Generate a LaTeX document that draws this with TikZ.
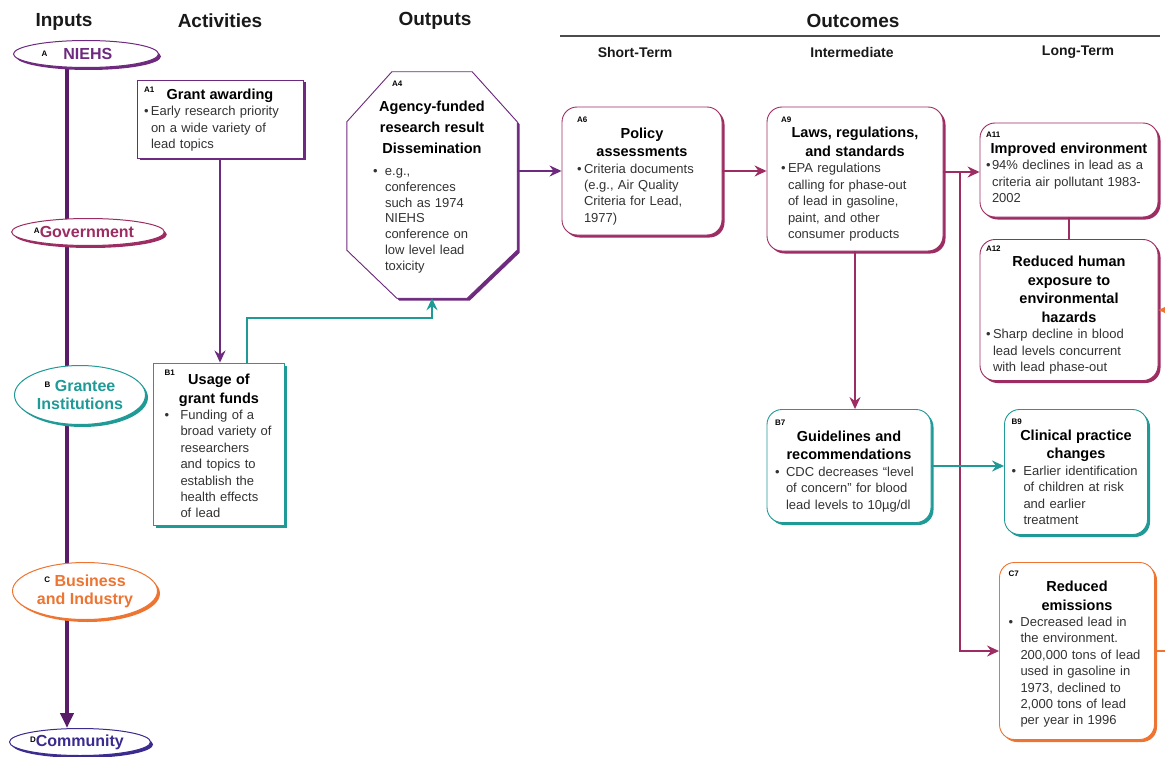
\documentclass[tikz,border=0pt]{standalone}
\usepackage{fontspec}
\setmainfont{Liberation Sans}
\usetikzlibrary{shapes.geometric,shadows,arrows.meta,backgrounds}

\definecolor{npurple}{HTML}{6E2A7E}
\definecolor{nplum}{HTML}{5A1C68}
\definecolor{nmag}{HTML}{9C2C61}
\definecolor{nteal}{HTML}{1F9A97}
\definecolor{norange}{HTML}{EE7431}
\definecolor{nnavy}{HTML}{3B2B8E}
\definecolor{ntext}{HTML}{333333}

\newcommand{\lab}[1]{{\fontsize{8}{8}\selectfont\bfseries\textcolor{black}{#1}}}
\newcommand{\labl}[1]{\noindent\lab{#1}\par\kern-3pt}
\newcommand{\ttlf}{\fontsize{14.5}{18.5}\selectfont\bfseries}
\newcommand{\ttl}[1]{{\centering\ttlf\textcolor{black}{#1}\par}}
\newcommand{\bul}[2][8pt]{\par{\let\\\newline\hangindent=#1\hangafter=1\noindent\hbox to #1{\textbullet\hfil}#2\par}}

\tikzset{
  shad/.style={drop shadow={shadow xshift=2.5pt,shadow yshift=-2.5pt,opacity=1,fill=#1}},
  lbox/.style={draw=#1,line width=0.9pt,fill=white,shad=#1,text=ntext,align=left,
    inner ysep=3pt,font=\fontsize{13}{16.4}\selectfont},
  rlbox/.style={lbox=#1,rounded corners=15pt},
  ell/.style={ellipse,draw=#1,line width=1pt,fill=white,shad=#1,text=#1,inner sep=0pt,
    align=center,font=\fontsize{16}{18}\selectfont\bfseries},
  hdr/.style={font=\fontsize{19}{21}\selectfont\bfseries,text=black!90},
  shdr/.style={font=\fontsize{14}{16}\selectfont\bfseries,text=black!90},
  arr/.style={draw=#1,line width=1.6pt,-{Stealth[length=12pt,width=11pt,inset=4pt]}},
  mainline/.style={draw=nplum,line width=4.5pt,-{Triangle[length=15pt,width=13pt]}}
}

\begin{document}
\begin{tikzpicture}[x=1pt,y=-1pt]
  \useasboundingbox (0,0) rectangle (1165,757);

  % headings
  \node[hdr] (inputs) at (64,22) {Inputs};
  \node[hdr] (activities) at (220,21) {Activities};
  \node[hdr] (outputs) at (435,21) {Outputs};
  \node[hdr] (outcomes) at (853,21) {Outcomes};
  \draw[line width=1.2pt,black!70] (560,36) -- (1160,36);
  \node[shdr] (short) at (635,52) {Short-Term};
  \node[shdr] (inter) at (852,52) {Intermediate};
  \node[shdr] (long) at (1078,52) {Long-Term};

  % inputs
  \node[ell=npurple,minimum width=145pt,minimum height=27pt] (niehs) at (86,54)
    {\raisebox{3pt}{\lab{A}}\hspace{16pt}NIEHS\hspace{18pt}};
  \node[ell=nmag,minimum width=144pt,minimum height=27pt] (gov) at (88,232)
    {\raisebox{4pt}{\lab{A}}Government\hspace{8pt}};
  \node[ell=nteal,minimum width=131pt,minimum height=59pt] (grantee) at (80,395)
    {\raisebox{4pt}{\lab{B}} Grantee\\Institutions};
  \node[ell=norange,minimum width=145pt,minimum height=57pt] (business) at (85,591)
    {\raisebox{4pt}{\lab{C}} Business\\and Industry};
  \node[ell=nnavy,minimum width=133pt,minimum height=27pt] (community) at (80,742)
    {\raisebox{4pt}{\lab{D}}Community\hspace{6pt}};

  % activities
  \node[lbox=npurple,minimum width=166pt,minimum height=78pt,inner xsep=7pt,text width=152pt] (a1) at (220,119)
    {\noindent\rlap{\raisebox{7pt}{\lab{A1}}}\hfill\textcolor{black}{\ttlf Grant awarding}\hfill\null\par
     \bul[7pt]{Early research priority\\on a wide variety of\\lead topics}};
  \node[lbox=nteal,minimum width=131pt,minimum height=162pt,inner xsep=11pt,text width=109pt] (b1) at (219,444)
    {\noindent\rlap{\raisebox{9pt}{\lab{B1}}}\hfill\textcolor{black}{\ttlf Usage of}\hfill\null\par
     \ttl{grant funds}
     \bul[16pt]{Funding of a\\broad variety of\\researchers\\and topics to\\establish the\\health effects\\of lead}};

  % outputs
  \node[text=ntext,align=left,minimum width=170pt,minimum height=226pt,inner xsep=26pt,text width=118pt,
    font=\fontsize{13}{15.8}\selectfont] (a4) at (432,185)
    {\noindent\hspace*{19pt}\lab{A4}\par\kern4pt
     {\centering\fontsize{14.5}{21}\selectfont\bfseries\textcolor{black}{Agency-funded\\research result\\Dissemination}\par}
     \kern6pt
     \bul[12pt]{e.g.,\\conferences\\such as 1974\\NIEHS\\conference on\\low level lead\\toxicity}\kern16pt};

  % outcomes
  \node[rlbox=nmag,minimum width=160pt,minimum height=128pt,inner xsep=15pt,text width=130pt] (a6) at (642,171)
    {\labl{A6}\ttl{Policy\\assessments}
     \bul[7pt]{Criteria documents\\(e.g., Air Quality\\Criteria for Lead,\\1977)}};
  \node[rlbox=nmag,minimum width=176pt,minimum height=144pt,inner xsep=14pt,text width=148pt] (a9) at (855,179)
    {\labl{A9}\ttl{Laws, regulations,\\and standards}
     \bul[7pt]{EPA regulations\\calling for phase-out\\of lead in gasoline,\\paint, and other\\consumer products}};
  \node[rlbox=nmag,minimum width=178pt,minimum height=94pt,inner xsep=6pt,text width=166pt] (a11) at (1069,170)
    {\labl{A11}\ttl{Improved environment}
     \bul[6pt]{94\% declines in lead as a\\criteria air pollutant 1983-\\2002}\kern5pt};
  \node[rlbox=nmag,minimum width=178pt,minimum height=141pt,inner xsep=6pt,text width=166pt] (a12) at (1069,310)
    {\labl{A12}\ttl{Reduced human\\exposure to\\environmental\\hazards}
     \bul[7pt]{Sharp decline in blood\\lead levels concurrent\\with lead phase-out}};
  \node[rlbox=nteal,minimum width=164pt,minimum height=113pt,inner xsep=8pt,text width=148pt] (b7) at (849,466)
    {\labl{B7}\ttl{Guidelines and\\recommendations}
     \bul[11pt]{CDC decreases “level\\of concern” for blood\\lead levels to 10µg/dl}};
  \node[rlbox=nteal,minimum width=143pt,minimum height=125pt,inner xsep=7pt,text width=129pt] (b9) at (1076,472)
    {\labl{B9}\ttl{Clinical practice\\changes}
     \bul[12pt]{Earlier identification\\of children at risk\\and earlier\\treatment}};
  \node[rlbox=norange,minimum width=155pt,minimum height=177pt,inner xsep=9pt,text width=137pt] (c7) at (1077,651)
    {\labl{C7}\ttl{Reduced\\emissions}
     \bul[12pt]{Decreased lead in\\the environment.\\200,000 tons of lead\\used in gasoline in\\1973, declined to\\2,000 tons of lead\\per year in 1996}\kern4pt};

  % octagon and main line
  \begin{scope}[on background layer]
    \filldraw[draw=npurple,fill=white,line width=0.9pt,shad=npurple]
      ([xshift=45pt]a4.north west) -- ([xshift=-45pt]a4.north east) -- ([yshift=-50pt]a4.north east)
      -- ([yshift=48pt]a4.south east) -- ([xshift=-50pt]a4.south east) -- ([xshift=50pt]a4.south west)
      -- ([yshift=48pt]a4.south west) -- ([yshift=-50pt]a4.north west) -- cycle;
    \draw[mainline] ([xshift=-19pt]niehs.center) -- ([xshift=-13pt]community.north);
  \end{scope}

  % connectors
  \coordinate (split) at (960,172);
  \coordinate (offr) at (1185,310);
  \draw[arr=npurple] (a1.south) -- (a1.south |- b1.north);
  \draw[arr=nteal] ([xshift=28pt]b1.north) |- ([yshift=-20pt]a4.south) -- (a4.south);
  \draw[arr=npurple] (a4.east |- a6.west) -- (a6.west);
  \draw[arr=nmag] (a6.east) -- (a6.east -| a9.west);
  \draw[arr=nmag] (a9.south) -- (a9.south |- b7.north);
  \draw[arr=nmag] (a9.east |- split) -- (a11.west |- split);
  \draw[arr=nmag] (split) |- (c7.west);
  \draw[line width=1.6pt,nmag] (a11.south) -- (a12.north);
  \draw[arr=nteal] (b7.east) -- (b7.east -| b9.west);
  \draw[arr=norange] (c7.east) -| (offr) -- (a12.east |- offr);
\end{tikzpicture}
\end{document}
